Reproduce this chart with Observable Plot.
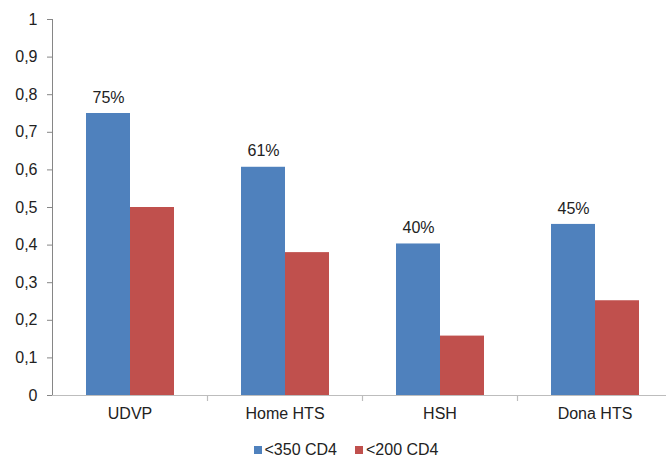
<!DOCTYPE html>
<html>
<head>
<meta charset="utf-8">
<script src="https://cdn.jsdelivr.net/npm/d3@7"></script>
<script src="https://cdn.jsdelivr.net/npm/@observablehq/plot@0.6"></script>
<style>
  html, body { margin: 0; padding: 0; background: #fff; overflow: hidden; }
  body { width: 666px; height: 458px; font-family: "Liberation Sans", Arial, sans-serif; }
  #chart svg { display: block; }
  #legend { display: flex; justify-content: center; gap: 18px; font-size: 16px; line-height: 16px; color: #222; margin-top: 14px; padding-left: 26px; }
  #legend span.item { display: inline-flex; align-items: center; }
  #legend span.sw { width: 8px; height: 8px; display: inline-block; margin-right: 3px; }
</style>
</head>
<body>
<div id="chart"></div>
<div id="legend"></div>
<script>
const categories = ["UDVP", "Home HTS", "HSH", "Dona HTS"];
const seriesNames = ["<350 CD4", "<200 CD4"];
const cd4under350 = [0.75, 0.607, 0.403, 0.455];
const cd4under200 = [0.50, 0.38, 0.158, 0.252];
const barLabels = ["75%", "61%", "40%", "45%"];
const yTicks = [0, 0.1, 0.2, 0.3, 0.4, 0.5, 0.6, 0.7, 0.8, 0.9, 1];
const colors = ["#4F81BD", "#C0504D"];

const rows = [];
categories.forEach((c, i) => {
  rows.push({category: c, series: seriesNames[0], value: cd4under350[i], label: barLabels[i]});
  rows.push({category: c, series: seriesNames[1], value: cd4under200[i], label: null});
});

const W = 666, H = 428, mTop = 19, mBottom = 33, mLeft = 52, mRight = -6;
const facetStep = (W - mLeft - mRight) / categories.length;
const fmt = d => String(d).replace(".", ",");

const plot = Plot.plot({
  width: W,
  height: H,
  marginTop: mTop,
  marginBottom: mBottom,
  marginLeft: mLeft,
  marginRight: mRight,
  style: {fontFamily: "Liberation Sans, Arial, sans-serif", fontSize: "16px", color: "#222", background: "#fff"},
  fx: {domain: categories, padding: 0, label: null, axis: null},
  x: {domain: seriesNames, paddingInner: 0, paddingOuter: 0.742, axis: null},
  y: {domain: [0, 1], label: null, axis: null},
  color: {domain: seriesNames, range: colors},
  marks: [
    Plot.barY(rows, {fx: "category", x: "series", y: "value", fill: "series"}),
    Plot.text(rows.filter(d => d.label), {fx: "category", x: "series", y: "value", text: "label", dy: -16, fontSize: 16, fill: "#222"}),
    // y axis ticks and labels
    Plot.axisY({ticks: yTicks, tickFormat: fmt, tickSize: 5, tickPadding: 10, stroke: "#868686", fill: "#222", fontSize: 16, facetAnchor: "left", label: null}),
    // x baseline
    Plot.ruleY([0], {stroke: "#BDBDBD", strokeWidth: 1.2}),
    // y axis line (left edge of first facet)
    Plot.ruleX([categories[0]], {fx: d => d, x: null, dx: -facetStep / 2, stroke: "#868686"}),
    // boundary ticks between categories
    Plot.ruleX(categories.slice(1), {fx: d => d, x: null, dx: -facetStep / 2, stroke: "#BDBDBD", strokeWidth: 1.2, insetTop: H - mTop - mBottom, insetBottom: -6}),
    Plot.axisFx({anchor: "bottom", tickSize: 0, tickPadding: 12, fontSize: 16, fill: "#222", label: null})
  ]
});
document.getElementById("chart").appendChild(plot);

const legend = document.getElementById("legend");
seriesNames.forEach((s, i) => {
  const item = document.createElement("span");
  item.className = "item";
  const sw = document.createElement("span");
  sw.className = "sw";
  sw.style.background = colors[i];
  item.appendChild(sw);
  item.appendChild(document.createTextNode(s));
  legend.appendChild(item);
});
</script>
</body>
</html>
